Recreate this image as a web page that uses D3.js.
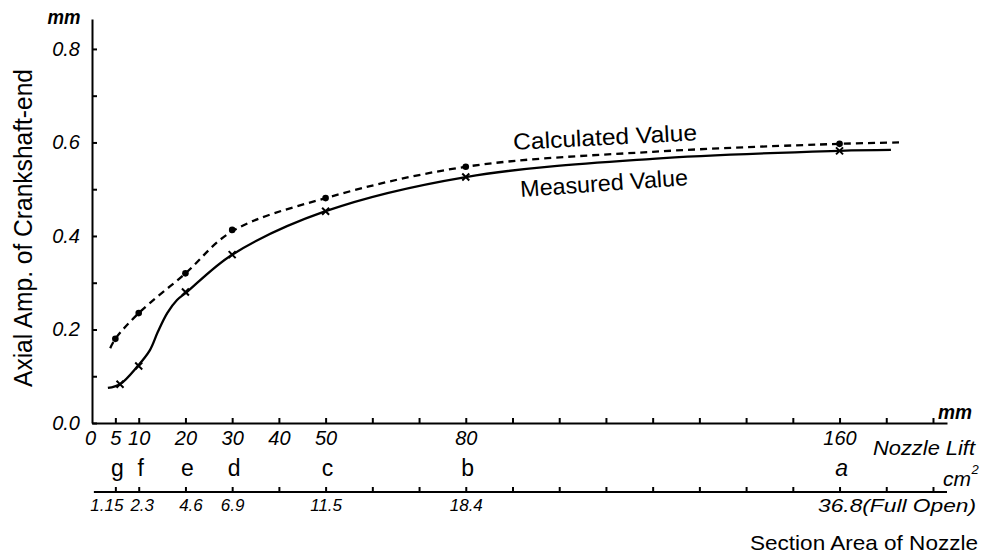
<!DOCTYPE html>
<html>
<head>
<meta charset="utf-8">
<script src="https://cdn.jsdelivr.net/npm/d3@7"></script>
<style>
  body { margin: 0; background: #fff; }
  svg text { font-family: "Liberation Sans", "DejaVu Sans", sans-serif; fill: #000; }
  .axis path, .axis line { stroke: #000; stroke-width: 2; }
  .axis text { font-size: 20px; font-style: italic; }
</style>
</head>
<body>
<div id="chart"></div>
<script>
// nozzle lift (mm) ticks and labels
const liftTicks = [5, 10, 20, 30, 40, 50, 60, 70, 80, 90, 100, 110, 120, 130, 140, 150, 160, 170, 180];
const liftLabels = [0, 5, 10, 20, 30, 40, 50, 80, 160];
// nozzle positions g..a and section area (cm2)
const positionLift = [5, 10, 20, 30, 50, 80, 160];
const positionNames = ['g', 'f', 'e', 'd', 'c', 'b', 'a'];
const areaLabels = ['1.15', '2.3', '4.6', '6.9', '11.5', '18.4', '36.8(Full Open)'];

// plotted points
const calcLift = [5, 10, 20, 30, 50, 80, 160];
const calculatedValues = [0.18, 0.235, 0.32, 0.413, 0.481, 0.548, 0.597];
const measLift = [6, 10, 20, 30, 50, 80, 160];
const measuredValues = [0.083, 0.122, 0.28, 0.36, 0.453, 0.526, 0.582];

// hand-drawn curves
const calcCurveLift = [3.9, 5, 10, 20, 30, 50, 80, 120, 160, 173];
const calcCurveVal = [0.16, 0.18, 0.235, 0.32, 0.41, 0.481, 0.548, 0.58, 0.597, 0.6];
const measCurveLift = [3.4, 6, 9.8, 12.4, 14.1, 16.1, 18.2, 20.3, 30, 50, 80, 120, 160, 171];
const measCurveVal = [0.075, 0.083, 0.122, 0.156, 0.195, 0.235, 0.263, 0.28, 0.36, 0.453, 0.526, 0.565, 0.582, 0.584];

const yTicks = [0, 0.1, 0.2, 0.3, 0.4, 0.5, 0.6, 0.7, 0.8];

const width = 988, height = 557;
const svg = d3.select('#chart').append('svg')
  .attr('width', width).attr('height', height)
  .attr('viewBox', `0 0 ${width} ${height}`);

const x = d3.scaleLinear().domain([0, 183]).range([92, 947]);
const y = d3.scaleLinear().domain([0, 0.864]).range([423, 19]);

// y axis, ticks pointing into the plot
svg.append('g').attr('class', 'axis y-axis')
  .attr('transform', `translate(${x(0)},0)`)
  .call(d3.axisLeft(y).tickValues(yTicks).tickSizeInner(-5).tickSizeOuter(0).tickPadding(12)
    .tickFormat(d => Math.round(d * 10) % 2 === 0 ? d3.format('.1f')(d) : ''));

// nozzle lift axis
const xAxis = svg.append('g').attr('class', 'axis x-axis')
  .attr('transform', `translate(0,${y(0)})`)
  .call(d3.axisBottom(x).tickValues([0, ...liftTicks]).tickSizeInner(-5).tickSizeOuter(0).tickPadding(8)
    .tickFormat(d => liftLabels.includes(d) ? d : ''));
xAxis.selectAll('.tick').filter(d => d === 0).select('line').remove();
xAxis.selectAll('.tick').filter(d => d === 0).select('text').attr('dx', -2);

// section area axis, same positions
const areaY = 492;
const aAxis = svg.append('g').attr('class', 'axis area-axis')
  .attr('transform', `translate(0,${areaY})`)
  .call(d3.axisBottom(x).tickValues(liftTicks).tickSizeInner(-5).tickSizeOuter(0).tickPadding(7)
    .tickFormat(d => {
      const i = positionLift.indexOf(d);
      return i >= 0 ? areaLabels[i] : '';
    }));
aAxis.select('.domain').attr('d', `M${x(0.4)},0H${x(183)}`);
aAxis.selectAll('text').style('font-size', '17px');
aAxis.selectAll('.tick').filter(d => d === 5).select('text').attr('dx', -9);
aAxis.selectAll('.tick').filter(d => d === 10).select('text').attr('dx', 3);
aAxis.selectAll('.tick').filter(d => d === 20).select('text').attr('dx', 5);
aAxis.selectAll('.tick').filter(d => d === 160).select('text')
  .attr('text-anchor', 'start').attr('dx', -22).style('font-size', '19px')
  .attr('textLength', 158).attr('lengthAdjust', 'spacingAndGlyphs');

// position letters
svg.append('g').selectAll('text').data(positionNames).join('text')
  .attr('x', (d, i) => x(positionLift[i]) + 2)
  .attr('y', 468).attr('dy', '0.35em')
  .attr('text-anchor', 'middle')
  .style('font-size', '23px')
  .style('font-style', d => d === 'a' ? 'italic' : 'normal')
  .text(d => d);

// curves
const lineGen = d3.line().x(d => x(d[0])).y(d => y(d[1])).curve(d3.curveCatmullRom.alpha(0.5));
svg.append('path')
  .datum(calcCurveLift.map((l, i) => [l, calcCurveVal[i]]))
  .attr('d', lineGen)
  .attr('fill', 'none').attr('stroke', '#000').attr('stroke-width', 2.3)
  .attr('stroke-dasharray', '7 5');
svg.append('path')
  .datum(measCurveLift.map((l, i) => [l, measCurveVal[i]]))
  .attr('d', lineGen)
  .attr('fill', 'none').attr('stroke', '#000').attr('stroke-width', 2.3);

// markers
svg.append('g').selectAll('circle').data(calculatedValues).join('circle')
  .attr('cx', (d, i) => x(calcLift[i])).attr('cy', d => y(d))
  .attr('r', 3.3).attr('fill', '#000');
svg.append('g').selectAll('path').data(measuredValues).join('path')
  .attr('transform', (d, i) => `translate(${x(measLift[i])},${y(d)})`)
  .attr('d', 'M-3.5,-3.5L3.5,3.5M-3.5,3.5L3.5,-3.5')
  .attr('stroke', '#000').attr('stroke-width', 2);

// annotations
const label = (txt, cx, cy, size, opts = {}) => {
  const t = svg.append('text')
    .attr('x', cx).attr('y', cy).attr('dy', '0.35em')
    .attr('text-anchor', opts.anchor || 'middle')
    .style('font-size', size + 'px')
    .style('font-style', opts.italic ? 'italic' : 'normal')
    .text(txt);
  if (opts.rotate) t.attr('transform', `rotate(${opts.rotate},${cx},${cy})`);
  if (opts.len) t.attr('textLength', opts.len).attr('lengthAdjust', 'spacingAndGlyphs');
  return t;
};

label('Calculated Value', 605, 137, 23, { rotate: -3, len: 184 });
label('Measured Value', 604, 183, 23, { rotate: -4, len: 168 });
label('Axial Amp. of Crankshaft-end', 23, 228, 25, { rotate: -90, len: 318 });
label('mm', 64, 17, 20, { italic: true, len: 33 }).style('font-weight', 'bold');
label('mm', 955, 412, 20, { italic: true, len: 34 }).style('font-weight', 'bold');
label('Nozzle Lift', 924, 448, 20, { italic: true, len: 102 });
label('cm', 957, 479, 21, { italic: true, len: 28 });
label('2', 975, 469, 13, { italic: true });
label('Section Area of Nozzle', 864, 543, 21, { len: 228 });
</script>
</body>
</html>
